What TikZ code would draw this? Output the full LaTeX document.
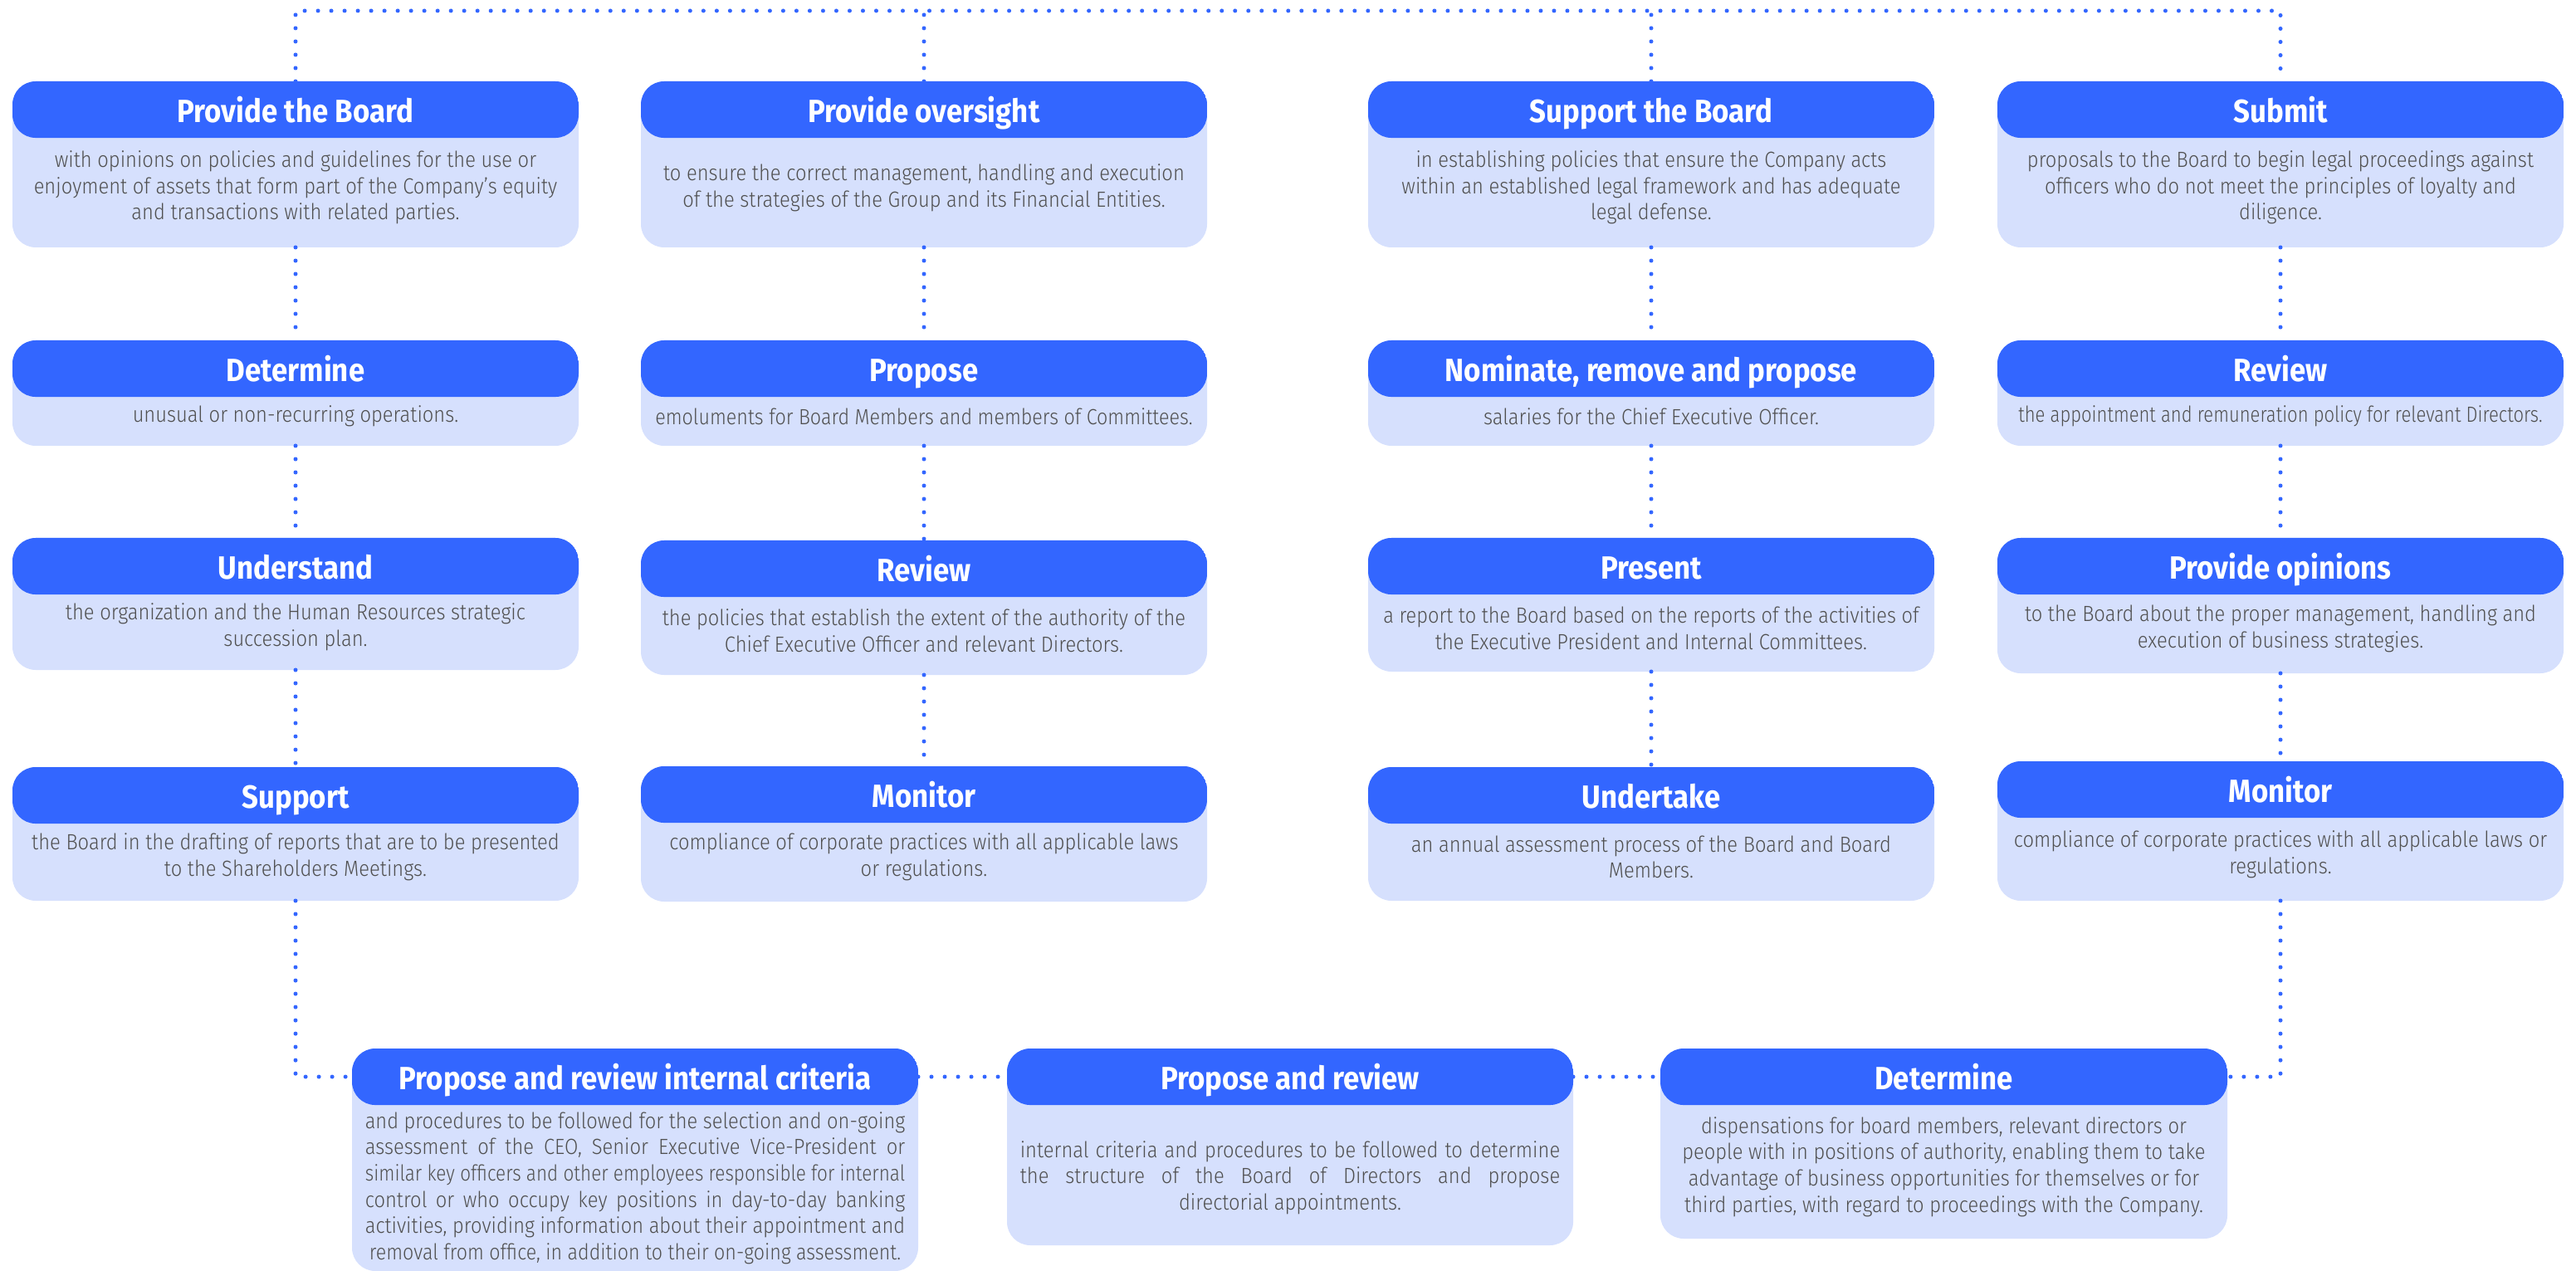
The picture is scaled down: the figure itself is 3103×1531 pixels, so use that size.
\documentclass[tikz,border=0pt]{standalone}
\usepackage{fontspec}
\usepackage{graphicx}
\usetikzlibrary{calc}
\IfFontExistsTF{Fira Sans Light}
  {\newfontfamily\bodyfont{Fira Sans Light}[FakeStretch=0.9]}
  {\newfontfamily\bodyfont{Fira Sans}[FakeStretch=0.9]}
\newfontfamily\titlefont{Fira Sans}[FakeStretch=0.9]

\definecolor{hdr}{RGB}{51,102,255}
\definecolor{cardbg}{RGB}{214,224,253}
\definecolor{bodygray}{RGB}{80,80,80}

\tikzset{
  cardbox/.style={rectangle, rounded corners=0.28cm, fill=cardbg, inner sep=0pt, outer sep=0pt,
    path picture={\fill[hdr] (path picture bounding box.north west) rectangle
      ([yshift=-0.68cm]path picture bounding box.north east);}},
  titletext/.style={inner sep=0pt, anchor=base, text=white,
    font=\titlefont\bfseries\fontsize{11}{13}\selectfont},
  bodytext/.style={inner sep=0pt, text=bodygray, align=center, yshift=0.06cm,
    font=\bodyfont\fontsize{7.5}{9}\selectfont},
  dotline/.style={draw=hdr, line width=0.05cm, line cap=round, dash pattern=on 0pt off 0.16cm},
}

% card: [body options] name, x1, y1, x2, y2 (in 0.01cm units, y downward), title, body
\newcommand\card[8][]{%
  \node[cardbox, minimum width={(#5-#3)*0.01cm}, minimum height={(#6-#4)*0.01cm}]
    (#2) at ({(#3+#5)/2},{(#4+#6)/2}) {};
  \node[titletext] (#2-t) at ([yshift=-0.49cm]#2.north) {#7};
  \coordinate (#2-h) at ([yshift=-0.34cm]#2.north);
  \node[bodytext,#1] (#2-b) at ($(#2.south)!0.5!([yshift=-0.68cm]#2.north)$) {#8};
}

% a line squeezed horizontally if wider than the given width
\newsavebox\linebox
\newcommand\fitto[2]{\sbox\linebox{#2}%
  \ifdim\wd\linebox>#1\relax
    \pgfmathsetmacro\lineratio{#1/\wd\linebox}\scalebox{\lineratio}[1]{\usebox\linebox}%
  \else\usebox\linebox\fi}
% a fully justified line of body text (squeezed if too long)
\newcommand\jl[1]{\sbox\linebox{#1}%
  \ifdim\wd\linebox>6.5cm\relax
    \pgfmathsetmacro\lineratio{6.5cm/\wd\linebox}\scalebox{\lineratio}[1]{\usebox\linebox}%
  \else\makebox[6.5cm][s]{#1}\fi}

\begin{document}
\begin{tikzpicture}[x=0.01cm, y=-0.01cm]
\useasboundingbox (0,0) rectangle (3103,1531);

% column 1
\card{c1-1}{15}{98}{697}{298}{Provide the Board}
  {with opinions on policies and guidelines for the use or\\enjoyment of assets that form part of the Company’s equity\\and transactions with related parties.}
\card{c1-2}{15}{410}{697}{537}{Determine}
  {unusual or non-recurring operations.}
\card{c1-3}{15}{648}{697}{807}{Understand}
  {the organization and the Human Resources strategic\\succession plan.}
\card{c1-4}{15}{924}{697}{1085}{Support}
  {the Board in the drafting of reports that are to be presented\\to the Shareholders Meetings.}

% column 2
\card{c2-1}{772}{98}{1454}{298}{Provide oversight}
  {to ensure the correct management, handling and execution\\of the strategies of the Group and its Financial Entities.}
\card{c2-2}{772}{410}{1454}{537}{Propose}
  {\fitto{6.47cm}{emoluments for Board Members and members of Committees.}}
\card{c2-3}{772}{651}{1454}{813}{Review}
  {\fitto{6.3cm}{the policies that establish the extent of the authority of the}\\Chief Executive Officer and relevant Directors.}
\card{c2-4}{772}{923}{1454}{1086}{Monitor}
  {compliance of corporate practices with all applicable laws\\or regulations.}

% column 3
\card{c3-1}{1648}{98}{2330}{298}{Support the Board}
  {in establishing policies that ensure the Company acts\\within an established legal framework and has adequate\\legal defense.}
\card{c3-2}{1648}{410}{2330}{537}{Nominate, remove and propose}
  {salaries for the Chief Executive Officer.}
\card{c3-3}{1648}{648}{2330}{809}{Present}
  {\fitto{6.45cm}{a report to the Board based on the reports of the activities of}\\the Executive President and Internal Committees.}
\card{c3-4}{1648}{924}{2330}{1085}{Undertake}
  {an annual assessment process of the Board and Board\\Members.}

% column 4
\card{c4-1}{2406}{98}{3088}{298}{Submit}
  {proposals to the Board to begin legal proceedings against\\officers who do not meet the principles of loyalty and\\diligence.}
\card{c4-2}{2406}{410}{3088}{537}{Review}
  {\fitto{6.31cm}{the appointment and remuneration policy for relevant Directors.}}
\card{c4-3}{2406}{648}{3088}{811}{Provide opinions}
  {to the Board about the proper management, handling and\\execution of business strategies.}
\card{c4-4}{2406}{917}{3088}{1085}{Monitor}
  {\fitto{6.5cm}{compliance of corporate practices with all applicable laws or}\\regulations.}

% bottom row
\card[yshift=-0.06cm]{pA}{424}{1263}{1106}{1531}{Propose and review internal criteria}
  {\jl{and procedures to be followed for the selection and on-going}\\
   \jl{assessment of the CEO, Senior Executive Vice-President or}\\
   \jl{similar key officers and other employees responsible for internal}\\
   \jl{control or who occupy key positions in day-to-day banking}\\
   \jl{activities, providing information about their appointment and}\\
   \fitto{6.4cm}{removal from office, in addition to their on-going assessment.}}
\card[yshift=-0.09cm]{pB}{1213}{1263}{1895}{1500}{Propose and review}
  {\jl{internal criteria and procedures to be followed to determine}\\
   \jl{the structure of the Board of Directors and propose}\\
   directorial appointments.}
\card{pC}{2000}{1263}{2683}{1492}{Determine}
  {dispensations for board members, relevant directors or\\people with in positions of authority, enabling them to take\\advantage of business opportunities for themselves or for\\third parties, with regard to proceedings with the Company.}

% dotted connectors
\coordinate (topL) at (356,13);
\coordinate (topR) at (2747,13);
\draw[dotline] (c1-1.north) -- (topL) -- (topR) -- (c4-1.north);
\draw[dotline] (c2-1.north) -- (c2-1.north |- topL);
\draw[dotline] (c3-1.north) -- (c3-1.north |- topL);
\foreach \c in {1,2,3,4}{
  \draw[dotline] (c\c-1.south) -- (c\c-2.north);
  \draw[dotline] (c\c-2.south) -- (c\c-3.north);
  \draw[dotline] (c\c-3.south) -- (c\c-4.north);
}
\draw[dotline] (c1-4.south) |- (pA.west |- pA-h);
\draw[dotline] (pA.east |- pA-h) -- (pB.west |- pB-h);
\draw[dotline] (pB.east |- pB-h) -- (pC.west |- pC-h);
\draw[dotline] (c4-4.south) |- (pC.east |- pC-h);
\end{tikzpicture}
\end{document}
